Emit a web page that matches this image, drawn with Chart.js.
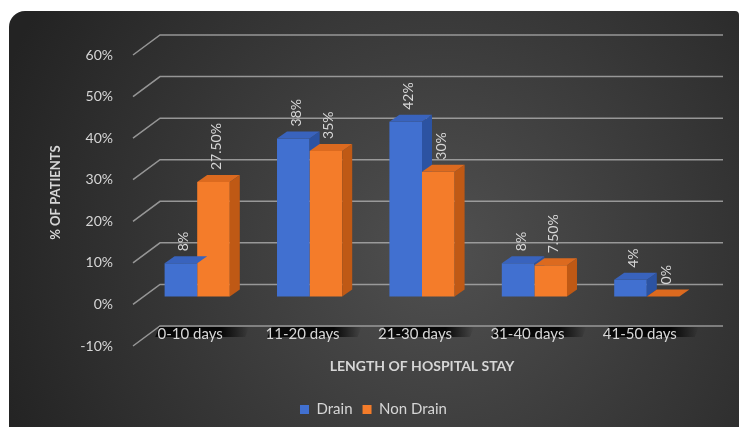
<!DOCTYPE html>
<html>
<head>
<meta charset="utf-8">
<script src="https://cdn.jsdelivr.net/npm/chart.js@4"></script>
<style>
  html, body { margin: 0; padding: 0; background: #fff; }
  canvas { display: block; }
</style>
</head>
<body>
<canvas id="stayChart" width="745" height="427"></canvas>
<script>
// Chart data
const categories = ['0-10 days', '11-20 days', '21-30 days', '31-40 days', '41-50 days'];
const drainValues = [8, 38, 42, 8, 4];
const nonDrainValues = [27.5, 35, 30, 7.5, 0];
const drainLabels = ['8%', '38%', '42%', '8%', '4%'];
const nonDrainLabels = ['27.50%', '35%', '30%', '7.50%', '0%'];
const yMin = -10;
const yMax = 60;
const yStep = 10;

const textColor = '#d6d6d6';
const fontFamily = 'Lato, "Noto Sans", sans-serif';

// depth of the 3D bars
const depthX = 10;
const depthY = -7;

// Background panel, back wall gridlines and label shadows
const panelPlugin = {
    id: 'panel',
    beforeDraw(chart) {
        const { ctx, scales: { x, y } } = chart;
        ctx.save();
        ctx.fillStyle = '#ffffff';
        ctx.fillRect(0, 0, chart.width, chart.height);

        const g = ctx.createRadialGradient(440, 250, 10, 440, 250, 470);
        g.addColorStop(0, '#4f4f4f');
        g.addColorStop(1, '#232323');
        ctx.fillStyle = g;
        ctx.beginPath();
        ctx.roundRect(9, 11, 730, 440, [16, 4, 0, 0]);
        ctx.fill();

        // gridlines on the back wall with the diagonal side wall lines
        ctx.strokeStyle = 'rgba(175,175,175,0.8)';
        ctx.lineWidth = 1.5;
        y.ticks.forEach(t => {
            const py = y.getPixelForValue(t.value);
            ctx.beginPath();
            ctx.moveTo(x.left - 8, py + 8);
            ctx.lineTo(x.left + 19, py - 12);
            ctx.lineTo(x.right + 20, py - 12);
            ctx.stroke();
        });

        // dark shadow under each category label
        categories.forEach((c, i) => {
            const px = x.getPixelForValue(i);
            const sx = px - 42;
            const sw = 94;
            const sy = y.getPixelForValue(yMin) - 12;
            const sg = ctx.createLinearGradient(sx, 0, sx + sw, 0);
            sg.addColorStop(0, 'rgba(0,0,0,0.85)');
            sg.addColorStop(0.7, 'rgba(0,0,0,0.9)');
            sg.addColorStop(1, 'rgba(0,0,0,0)');
            ctx.fillStyle = sg;
            ctx.beginPath();
            ctx.moveTo(sx + 4, sy + 1);
            ctx.lineTo(sx + sw, sy + 1);
            ctx.lineTo(sx + sw - 4, sy + 11);
            ctx.lineTo(sx, sy + 11);
            ctx.closePath();
            ctx.fill();
        });
        ctx.restore();
    }
};

function drawFaces(ctx, el, ds, clipBottom) {
    const left = el.x - el.width / 2;
    const right = el.x + el.width / 2;
    const top = el.y;
    const base = el.base;

    ctx.save();
    if (clipBottom !== undefined) {
        ctx.beginPath();
        ctx.rect(0, 0, 2000, clipBottom);
        ctx.clip();
    }
    ctx.fillStyle = ds.sideColor;
    ctx.beginPath();
    ctx.moveTo(right, top);
    ctx.lineTo(right + depthX, top + depthY);
    ctx.lineTo(right + depthX, base + depthY);
    ctx.lineTo(right, base);
    ctx.closePath();
    ctx.fill();
    ctx.restore();

    ctx.fillStyle = ds.topColor;
    ctx.beginPath();
    ctx.moveTo(left, top);
    ctx.lineTo(left + depthX, top + depthY);
    ctx.lineTo(right + depthX, top + depthY);
    ctx.lineTo(right, top);
    ctx.closePath();
    ctx.fill();
}

// Side and top faces of every bar, then the value labels
const boxPlugin = {
    id: 'box3d',
    afterDatasetsDraw(chart) {
        const { ctx } = chart;
        const dsDrain = chart.data.datasets[0];
        const dsNon = chart.data.datasets[1];
        const mDrain = chart.getDatasetMeta(0).data;
        const mNon = chart.getDatasetMeta(1).data;
        ctx.save();
        categories.forEach((c, i) => {
            // drain side is hidden behind the non drain front below its top
            drawFaces(ctx, mDrain[i], dsDrain, mNon[i].y);
            drawFaces(ctx, mNon[i], dsNon);
        });

        ctx.fillStyle = textColor;
        ctx.font = '14px ' + fontFamily;
        ctx.textAlign = 'left';
        ctx.textBaseline = 'middle';
        chart.data.datasets.forEach((ds, di) => {
            const meta = chart.getDatasetMeta(di);
            meta.data.forEach((el, i) => {
                ctx.save();
                ctx.translate(el.x + 3, el.y - 12);
                ctx.rotate(-Math.PI / 2);
                ctx.fillText(ds.valueLabels[i], 0, 0);
                ctx.restore();
            });
        });
        ctx.restore();
    }
};

const ctx = document.getElementById('stayChart').getContext('2d');
new Chart(ctx, {
    type: 'bar',
    data: {
        labels: categories,
        datasets: [
            {
                label: 'Drain',
                data: drainValues,
                valueLabels: drainLabels,
                backgroundColor: '#4170d0',
                sideColor: '#2c53a2',
                topColor: '#3963bd'
            },
            {
                label: 'Non Drain',
                data: nonDrainValues,
                valueLabels: nonDrainLabels,
                backgroundColor: '#f47c2a',
                sideColor: '#bf5915',
                topColor: '#dc6a1f'
            }
        ]
    },
    options: {
        responsive: false,
        animation: false,
        devicePixelRatio: 1,
        layout: {
            padding: { left: 44, right: 42, top: 47, bottom: 0 }
        },
        datasets: {
            bar: {
                categoryPercentage: 0.58,
                barPercentage: 1
            }
        },
        scales: {
            x: {
                grid: { display: false },
                border: { display: false },
                ticks: {
                    color: textColor,
                    font: { family: fontFamily, size: 15 },
                    mirror: true,
                    padding: -5,
                    labelOffset: -7,
                    maxRotation: 0
                },
                title: {
                    display: true,
                    text: 'LENGTH OF HOSPITAL STAY',
                    color: textColor,
                    font: { family: fontFamily, size: 14, weight: 'bold' },
                    padding: { top: 0, bottom: 17 }
                },
                afterFit(scale) {
                    scale.height = 54;
                }
            },
            y: {
                min: yMin,
                max: yMax,
                grid: { display: false },
                border: { display: false },
                ticks: {
                    stepSize: yStep,
                    color: textColor,
                    font: { family: fontFamily, size: 14 },
                    padding: 20,
                    labelOffset: 8,
                    callback: v => v + '%'
                },
                title: {
                    display: true,
                    text: '% OF PATIENTS',
                    color: textColor,
                    font: { family: fontFamily, size: 13, weight: 'bold' },
                    padding: { top: 4, bottom: 4 }
                },
                afterFit(scale) {
                    scale.width = 97;
                }
            }
        },
        plugins: {
            legend: {
                position: 'bottom',
                labels: {
                    color: textColor,
                    font: { family: fontFamily, size: 15 },
                    boxWidth: 9,
                    boxHeight: 9,
                    padding: 10
                }
            },
            tooltip: { enabled: false }
        }
    },
    plugins: [panelPlugin, boxPlugin]
});
</script>
</body>
</html>
